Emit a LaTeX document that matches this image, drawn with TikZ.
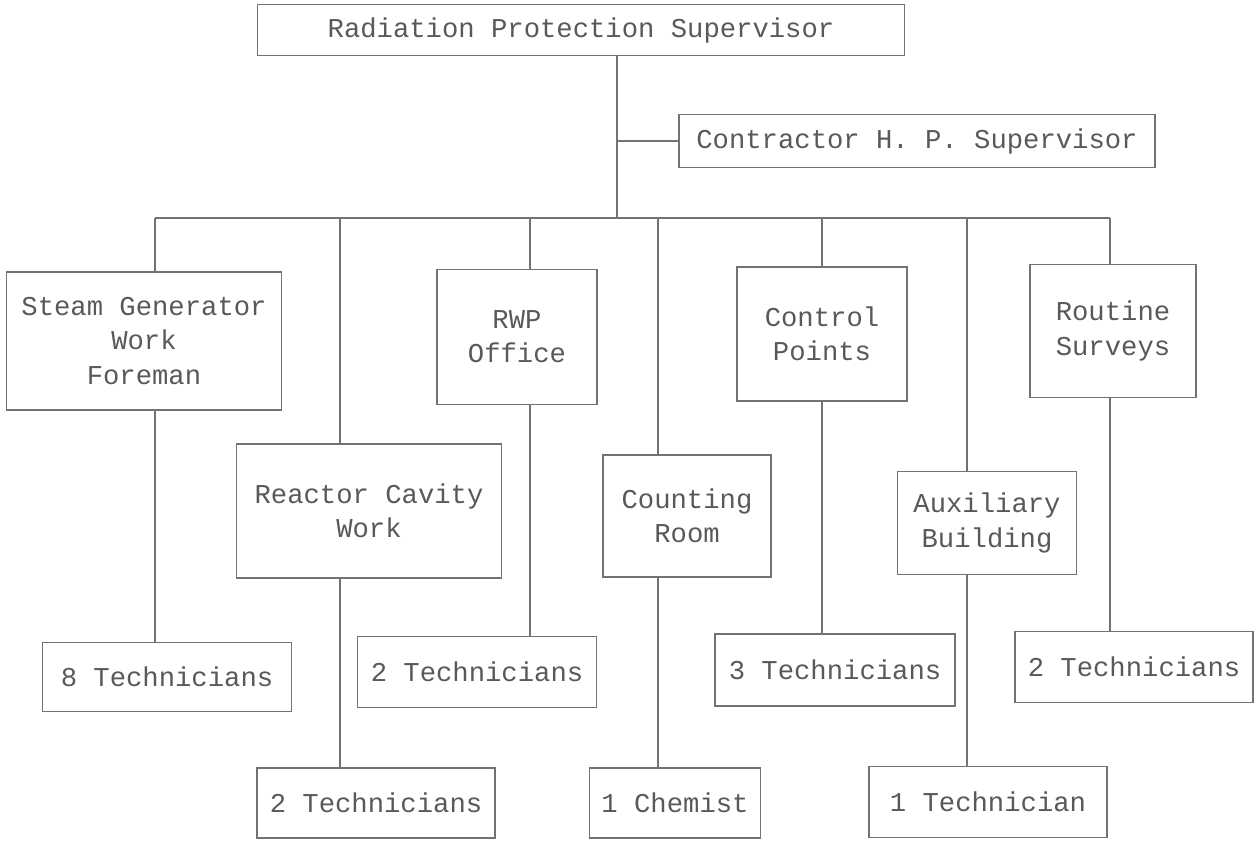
\documentclass[tikz,border=0pt]{standalone}
\usepackage{fontspec}
\setmonofont{Liberation Mono}
\usetikzlibrary{positioning}

\begin{document}
\begin{tikzpicture}[x=0.02cm, y=-0.02cm, font=\ttfamily\fontsize{15.5}{19.5}\selectfont,
    link/.style={draw=black!55, line width=0.7pt},
    unit/.style={draw=black!55, text=black!65, align=center, inner sep=0pt, line width=0.7pt}]
        \useasboundingbox (0,0) rectangle (1254,841);
        \node[unit, minimum width=12.94cm, minimum height=1.02cm] (rps) at (581,30) {Radiation Protection Supervisor};
        \node[unit, minimum width=9.52cm, minimum height=1.06cm] (hps) at (917,141) {Contractor H. P. Supervisor};
        \node[unit, minimum width=5.5cm, minimum height=2.76cm] (sgf) at (144,341) {Steam Generator\\Work\\Foreman};
        \node[unit, minimum width=5.3cm, minimum height=2.68cm] (rcw) at (369,511) {Reactor Cavity\\Work};
        \node[unit, minimum width=3.2cm, minimum height=2.7cm] (rwp) at (517,337) {RWP\\Office};
        \node[unit, minimum width=3.36cm, minimum height=2.44cm] (cr) at (687,516) {Counting\\Room};
        \node[unit, minimum width=3.4cm, minimum height=2.68cm] (cp) at (822,334) {Control\\Points};
        \node[unit, minimum width=3.58cm, minimum height=2.06cm] (ab) at (987,523) {Auxiliary\\Building};
        \node[unit, minimum width=3.32cm, minimum height=2.66cm] (rs) at (1113,331) {Routine\\Surveys};
        \node[unit, minimum width=4.98cm, minimum height=1.38cm] (techA) at (167,677) {8 Technicians};
        \node[unit, minimum width=4.76cm, minimum height=1.4cm] (techB) at (376,803) {2 Technicians};
        \node[unit, minimum width=4.78cm, minimum height=1.42cm] (techC) at (477,672) {2 Technicians};
        \node[unit, minimum width=3.42cm, minimum height=1.4cm] (chem) at (675,803) {1 Chemist};
        \node[unit, minimum width=4.8cm, minimum height=1.44cm] (techD) at (835,670) {3 Technicians};
        \node[unit, minimum width=4.76cm, minimum height=1.42cm] (techE) at (988,802) {1 Technician};
        \node[unit, minimum width=4.76cm, minimum height=1.42cm] (techF) at (1134,667) {2 Technicians};
        \coordinate (trunk) at (617,218);
        \draw[link] (rps.south -| trunk) -- (trunk);
        \draw[link] (trunk |- hps.west) -- (hps.west);
        \foreach \n/\x in {sgf/155, rcw/340, rwp/530, cr/658, cp/822, ab/967, rs/1110}
            \coordinate (d\n) at (\x,218);
        \draw[link] (dsgf) -- (drs);
        \foreach \n in {sgf, rcw, rwp, cr, cp, ab, rs}
            \draw[link] (d\n) -- (d\n |- \n.north);
        \foreach \n/\m in {sgf/techA, rcw/techB, rwp/techC, cr/chem, cp/techD, ab/techE, rs/techF}
            \draw[link] (d\n |- \n.south) -- (d\n |- \m.north);
      \end{tikzpicture}
\end{document}
